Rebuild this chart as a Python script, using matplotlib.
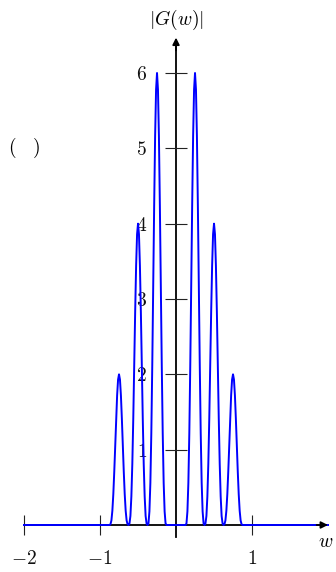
import matplotlib
matplotlib.use("Agg")
import matplotlib.pyplot as plt

plt.rcParams["mathtext.fontset"] = "cm"
plt.rcParams["font.family"] = ["DejaVu Serif"]

# ---- data ----
peak_centers = [-0.75, -0.5, -0.25, 0.25, 0.5, 0.75]
peak_heights = [2, 4, 6, 6, 4, 2]
w_offsets = [-0.125, -0.1125, -0.1, -0.0875, -0.075, -0.0625, -0.05, -0.0375, -0.025, -0.0125, 0.0,
             0.0125, 0.025, 0.0375, 0.05, 0.0625, 0.075, 0.0875, 0.1, 0.1125, 0.125]
g_peak2 = [0.0, 0.01, 0.06, 0.19, 0.41, 0.71, 1.06, 1.41, 1.72, 1.93, 2.0,
           1.93, 1.72, 1.41, 1.06, 0.71, 0.41, 0.19, 0.06, 0.01, 0.0]
g_peak4 = [0.0, 0.02, 0.12, 0.38, 0.81, 1.41, 2.12, 2.83, 3.44, 3.86, 4.0,
           3.86, 3.44, 2.83, 2.12, 1.41, 0.81, 0.38, 0.12, 0.02, 0.0]
g_peak6 = [0.0, 0.02, 0.18, 0.56, 1.22, 2.12, 3.18, 4.24, 5.16, 5.78, 6.0,
           5.78, 5.16, 4.24, 3.18, 2.12, 1.22, 0.56, 0.18, 0.02, 0.0]
peak_profiles = {2: g_peak2, 4: g_peak4, 6: g_peak6}
w_range = [-2.0, 2.0]

x_ticks = [-2, -1, 1]
x_ticklabels = [r"$-2$", r"$-1$", r"$1$"]
y_ticks = [1, 2, 3, 4, 5, 6]
y_ticklabels = [r"$1$", r"$2$", r"$3$", r"$4$", r"$5$", r"$6$"]

# build the curve from the read values
w = [w_range[0]]
g = [0.0]
for c, h in zip(peak_centers, peak_heights):
    for o, v in zip(w_offsets, peak_profiles[h]):
        w.append(c + o)
        g.append(v)
w.append(w_range[1])
g.append(0.0)

FS = 14

fig = plt.figure(figsize=(3.36, 5.72), dpi=100)
ax = fig.add_axes([0, 0, 1, 1])
ax.set_xlim(-2.316, 2.105)
ax.set_ylim(-0.624, 6.969)
ax.patch.set_alpha(0)

for s in ["top", "right"]:
    ax.spines[s].set_visible(False)
ax.spines["left"].set_position(("data", 0))
ax.spines["bottom"].set_position(("data", 0))
ax.spines["left"].set_bounds(-0.16, 6.35)
ax.spines["bottom"].set_bounds(-2.0, 1.9)
for s in ["left", "bottom"]:
    ax.spines[s].set_linewidth(1.3)
    ax.spines[s].set_zorder(1)

ax.set_xticks(x_ticks)
ax.set_xticklabels(x_ticklabels, fontsize=FS)
ax.set_yticks(y_ticks)
ax.set_yticklabels(y_ticklabels, fontsize=FS)
ax.tick_params(axis="x", direction="inout", length=14.4, width=0.8, pad=11, colors="#222222")
ax.tick_params(axis="y", direction="inout", length=16.5, width=0.8, pad=12.5, colors="#222222")
for lab in ax.get_xticklabels() + ax.get_yticklabels():
    lab.set_color("#111111")

ax.plot(w, g, color="#0000ff", lw=1.4, zorder=3, solid_joinstyle="round")

# arrow heads
ax.annotate("", xy=(2.0, 0), xytext=(1.85, 0),
            arrowprops=dict(arrowstyle="-|>", color="black", lw=1.3,
                            mutation_scale=10, shrinkA=0, shrinkB=0), zorder=5)
ax.annotate("", xy=(0, 6.47), xytext=(0, 6.3),
            arrowprops=dict(arrowstyle="-|>", color="black", lw=1.3,
                            mutation_scale=10, shrinkA=0, shrinkB=0), zorder=5)

ax.text(0, 6.70, r"$|G(w)|$", fontsize=FS, ha="center", va="center")
ax.text(1.97, -0.22, r"$w$", fontsize=FS, ha="center", va="center")
ax.text(-2.0, 5.0, r"$(\quad)$", fontsize=FS, ha="center", va="center")

fig.savefig("out.png", dpi=100)
